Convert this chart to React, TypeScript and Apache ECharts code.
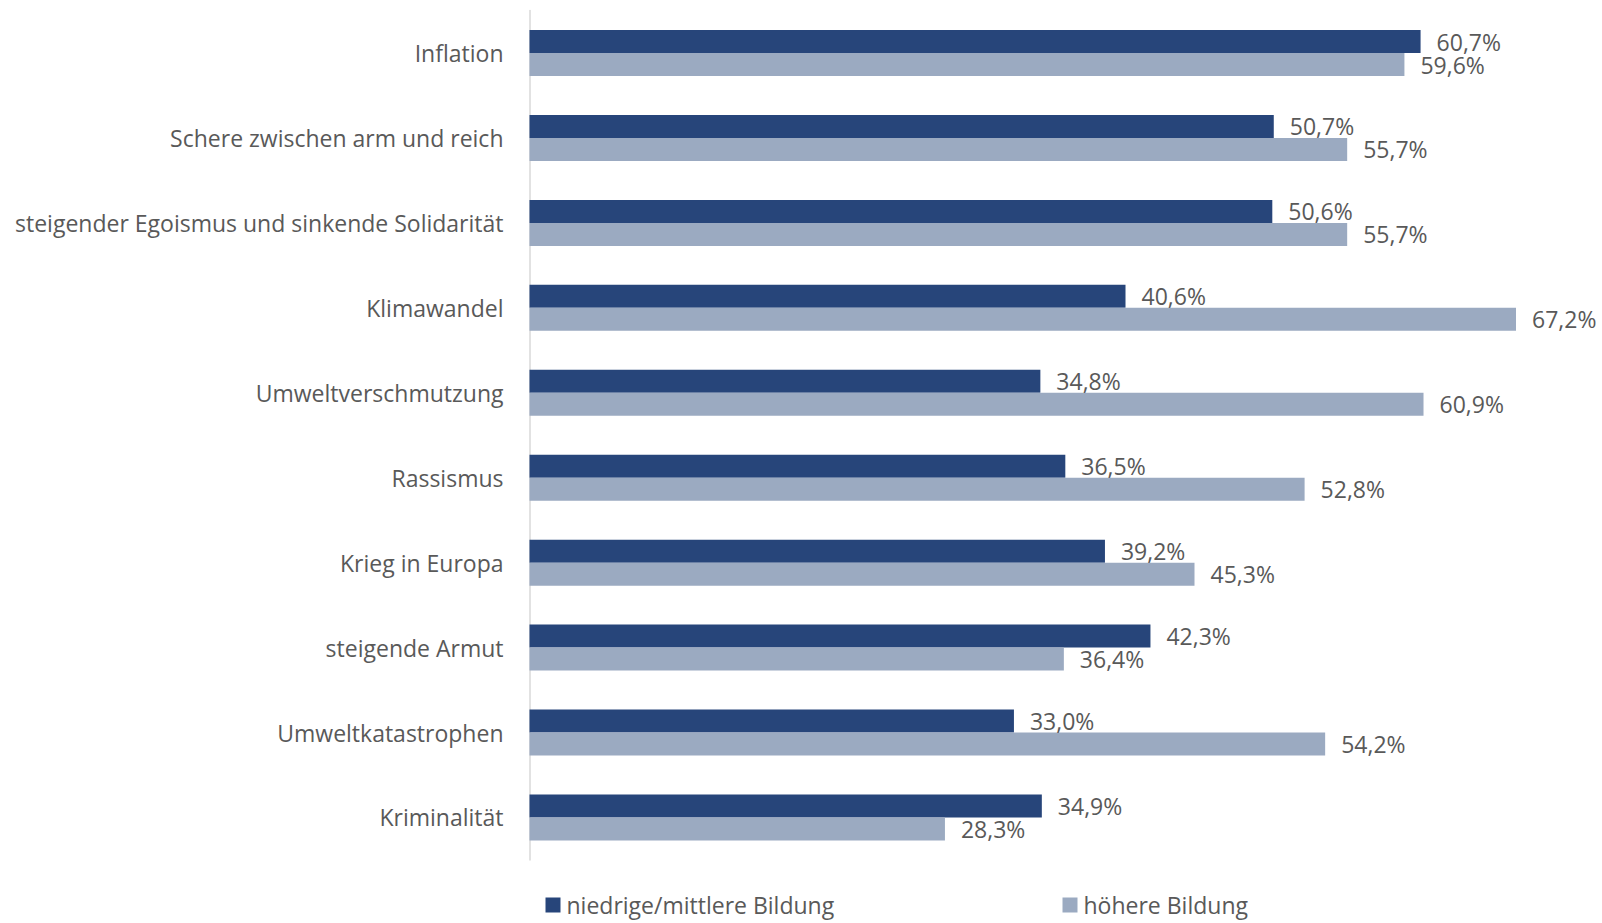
import React, { useEffect, useRef } from "react";
import * as echarts from "echarts";

const categories = [
  "Inflation",
  "Schere zwischen arm und reich",
  "steigender Egoismus und sinkende Solidarität",
  "Klimawandel",
  "Umweltverschmutzung",
  "Rassismus",
  "Krieg in Europa",
  "steigende Armut",
  "Umweltkatastrophen",
  "Kriminalität",
];
const seriesNames = ["niedrige/mittlere Bildung", "höhere Bildung"];
const lowMid = [60.7, 50.7, 50.6, 40.6, 34.8, 36.5, 39.2, 42.3, 33.0, 34.9];
const higher = [59.6, 55.7, 55.7, 67.2, 60.9, 52.8, 45.3, 36.4, 54.2, 28.3];
const colors = ["#27457A", "#9BAAC1"];

const FONT = "Open Sans";
const TEXT = "#595959";
const FS = 23;

export default function App() {
  const ref = useRef<HTMLDivElement>(null);
  useEffect(() => {
    if (!ref.current) return;
    const chart = echarts.init(ref.current, undefined, { renderer: "svg" });
    const fmt = (p: any) => p.value.toFixed(1).replace(".", ",") + "%";
    const legendBase = {
      top: 893,
      icon: "rect",
      itemWidth: 15,
      itemHeight: 15,
      itemGap: 0,
      padding: 0,
      textStyle: {
        color: TEXT,
        fontFamily: FONT,
        fontSize: FS,
        lineHeight: 24,
        padding: [0, 0, 0, 1],
      },
    };
    const labelBase = {
      show: true,
      position: "right",
      distance: 16,
      formatter: fmt,
      color: TEXT,
      fontFamily: FONT,
      fontSize: FS,
      lineHeight: 21,
    };
    chart.setOption({
      animation: false,
      grid: { left: 529.5, top: 10.6, height: 849.3, width: 1027.6 },
      xAxis: {
        type: "value",
        min: 0,
        max: 70,
        show: false,
      },
      yAxis: {
        type: "category",
        data: categories,
        inverse: true,
        axisLine: { show: true, lineStyle: { color: "#D9D9D9", width: 1.5 } },
        axisTick: { show: false },
        axisLabel: {
          color: TEXT,
          fontFamily: FONT,
          fontSize: FS,
          margin: 26,
          padding: [0, 0, 2, 0],
        },
      },
      legend: [
        { ...legendBase, data: [seriesNames[0]], left: 545.5 },
        { ...legendBase, data: [seriesNames[1]], left: 1062.5 },
      ],
      series: [
        {
          name: seriesNames[0],
          type: "bar",
          data: lowMid,
          barWidth: 23,
          barGap: "0%",
          itemStyle: { color: colors[0] },
          label: labelBase,
        },
        {
          name: seriesNames[1],
          type: "bar",
          data: higher,
          barWidth: 23,
          barGap: "0%",
          itemStyle: { color: colors[1] },
          label: labelBase,
        },
      ],
    });
    return () => chart.dispose();
  }, []);
  return <div ref={ref} style={{ width: 1602, height: 923, position: "absolute", left: 0, top: 0 }} />;
}
